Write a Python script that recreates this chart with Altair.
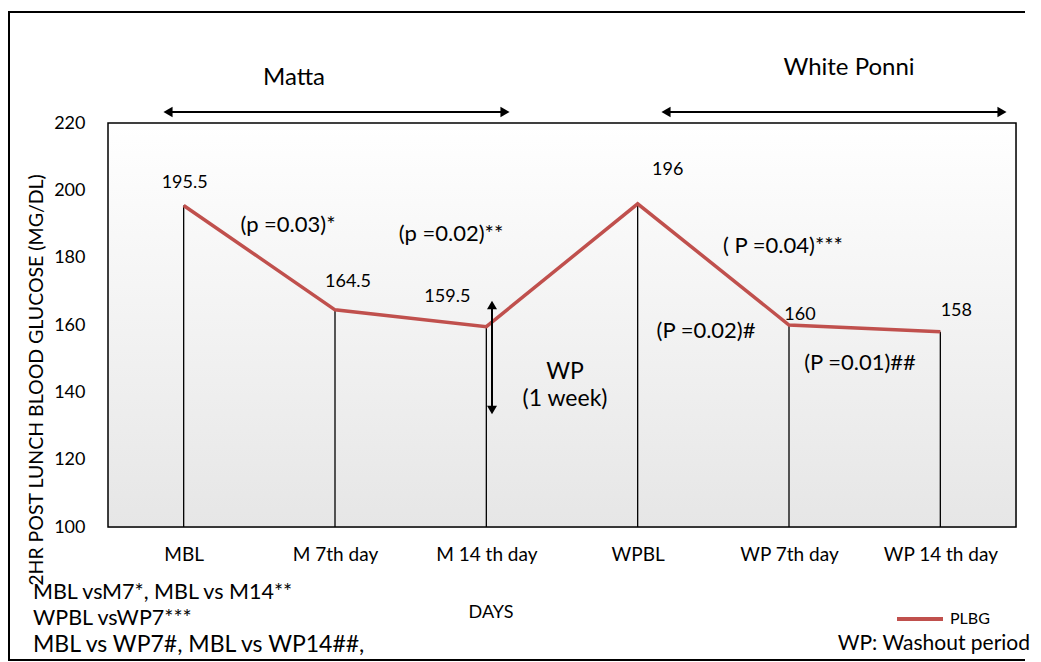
import altair as alt
import pandas as pd

# ---- data -------------------------------------------------------------
days = ["MBL", "M 7th day", "M 14 th day", "WPBL", "WP 7th day", "WP 14 th day"]
plbg = [195.5, 164.5, 159.5, 196, 160, 158]
value_labels = ["195.5", "164.5", "159.5", "196", "160", "158"]
y_ticks = [100, 120, 140, 160, 180, 200, 220]
series_name = "PLBG"

# ---- layout constants (pixels) -----------------------------------------
W, H = 908, 404
PAD_L, PAD_T, PAD_R, PAD_B = 100, 115, 17, 135
OX, OY = 8 + PAD_L, 8 + PAD_T  # page position of plot origin
FONT = "Lato"
RED = "#C0504D"

df = pd.DataFrame({"day": days, "plbg": plbg, "label": value_labels, "base": [100] * len(days)})
one = pd.DataFrame({"k": [0]})

x_enc = alt.X(
    "day:N", sort=days,
    scale=alt.Scale(type="point", padding=0.5),
    axis=alt.Axis(title=None, labelAngle=0, domain=False, ticks=False, labelFontSize=19,
                  labelPadding=18, labelColor="black", labelFont=FONT),
)
y_enc = alt.Y(
    "plbg:Q",
    scale=alt.Scale(domain=[100, 220], nice=False, zero=False),
    axis=alt.Axis(values=y_ticks, title=None, grid=False, domain=False, ticks=False,
                  labelPadding=23, labelFontSize=18, labelColor="black", labelFont=FONT),
)


def txt(s, px, py, size, align="center", baseline="middle", angle=0):
    return alt.Chart(one).mark_text(
        text=s, fontSize=size, font=FONT, align=align, baseline=baseline, angle=angle, color="black"
    ).encode(x=alt.value(px - OX), y=alt.value(py - OY))


def hrule(x1, x2, y, width=2, color="black"):
    return alt.Chart(one).mark_rule(color=color, strokeWidth=width).encode(
        x=alt.value(x1 - OX), x2=alt.value(x2 - OX), y=alt.value(y - OY))


def vrule(x, y1, y2, width=2, color="black"):
    return alt.Chart(one).mark_rule(color=color, strokeWidth=width).encode(
        x=alt.value(x - OX), y=alt.value(y1 - OY), y2=alt.value(y2 - OY))


def tri(shape, px, py, size=110):
    return alt.Chart(one).mark_point(shape=shape, filled=True, size=size, color="black", opacity=1).encode(
        x=alt.value(px - OX), y=alt.value(py - OY))


grad = alt.LinearGradient(
    gradient="linear", x1=0, x2=0, y1=0, y2=1,
    stops=[alt.GradientStop(color="#ffffff", offset=0), alt.GradientStop(color="#e6e6e6", offset=1)],
)

background = alt.Chart(one).mark_rect(fill=grad, stroke="black", strokeWidth=1.5).encode(
    x=alt.value(0), x2=alt.value(W), y=alt.value(0), y2=alt.value(H))

# outer frame of the figure (its right side lies beyond the picture)
frame = [
    hrule(8, 1025, 12),
    vrule(9, 11, 661),
    hrule(8, 1025, 660),
]

drops = alt.Chart(df).mark_rule(color="black", strokeWidth=1.3).encode(x=x_enc, y=y_enc, y2="base:Q")
line = alt.Chart(df).mark_line(color=RED, strokeWidth=3.5).encode(x=x_enc, y=y_enc)

label_offsets = [(1, -22), (13, -28), (-39, -30), (30, -34), (11, -10), (16, -21)]
value_layers = [
    alt.Chart(df.iloc[[i]]).mark_text(dx=dx, dy=dy, fontSize=18, font=FONT, color="black", baseline="middle")
    .encode(x=x_enc, y=y_enc, text="label:N")
    for i, (dx, dy) in enumerate(label_offsets)
]

annotations = [
    # group headings and arrows
    txt("Matta", 294, 85, 24, baseline="alphabetic"),
    txt("White Ponni", 849, 75, 24, baseline="alphabetic"),
    hrule(170, 503, 112),
    tri("triangle-left", 168, 112),
    tri("triangle-right", 505, 112),
    hrule(668, 1000, 112),
    tri("triangle-left", 666, 112),
    tri("triangle-right", 1002, 112),
    # p values
    txt("(p =0.03)*", 288, 225, 22),
    txt("(p =0.02)**", 451, 234, 22),
    txt("( P =0.04)***", 783, 246, 22),
    txt("(P =0.02)#", 706, 331, 22),
    txt("(P =0.01)##", 860, 363, 22),
    # washout period arrow
    vrule(492, 306, 409, width=2),
    tri("triangle-up", 492, 305, 100),
    tri("triangle-down", 492, 410, 100),
    txt("WP", 565, 372, 23),
    txt("(1 week)", 565, 399, 23),
    # axis titles
    txt("2HR POST LUNCH BLOOD GLUCOSE (MG/DL)", 37, 380, 19.5, angle=270),
    txt("DAYS", 491, 613, 18),
    # footnotes
    txt("MBL vsM7*, MBL vs M14**", 33, 599, 21.5, align="left", baseline="alphabetic"),
    txt("WPBL vsWP7***", 33, 625, 21.5, align="left", baseline="alphabetic"),
    txt("MBL vs WP7#, MBL vs WP14##,", 33, 652, 23, align="left", baseline="alphabetic"),
    # legend
    hrule(897, 943, 619, width=4, color=RED),
    txt(series_name, 950, 624, 16, align="left", baseline="alphabetic"),
    txt("WP: Washout period", 1030, 650, 21, align="right", baseline="alphabetic"),
]

chart = alt.layer(*frame, background, drops, line, *value_layers, *annotations).properties(
    width=W, height=H,
    padding={"left": PAD_L, "top": PAD_T, "right": PAD_R, "bottom": PAD_B},
    autosize=alt.AutoSizeParams(type="none"),
).configure_view(strokeWidth=0).configure(background="white")

chart.save("out.html", embed_options={"renderer": "svg", "actions": False})
